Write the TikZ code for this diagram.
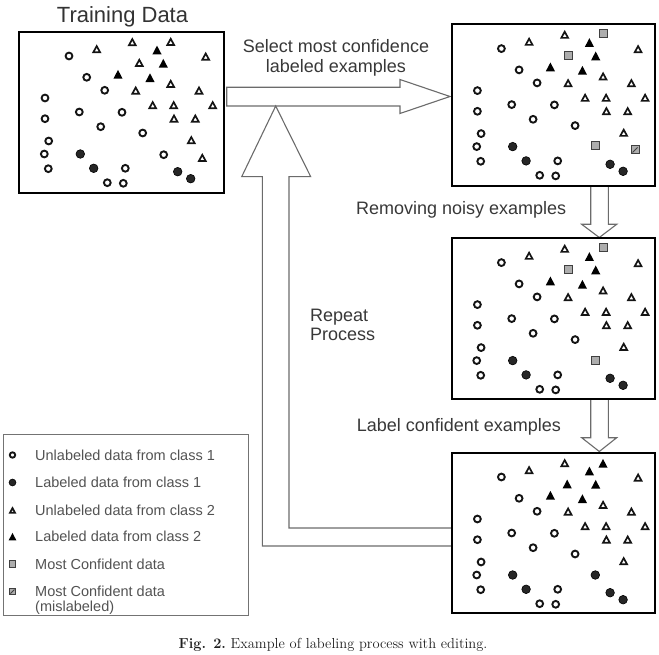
\documentclass[tikz,border=0pt]{standalone}
\usepackage{fontspec}
\newfontfamily\lsans{Liberation Sans}
\usetikzlibrary{calc}
\tikzset{
  databox/.style={draw=black, line width=2.3pt, inner sep=0pt, outer sep=0pt},
  blockarrow/.style={draw=black!58, line width=1.1pt, fill=white, line join=miter},
  ucs/.style={draw=black!92, line width=1.9pt},
  lcs/.style={draw=black, fill=black!85, line width=0.6pt},
  uts/.style={draw=black!92, line width=1.7pt, line join=miter},
  lts/.style={fill=black},
  sqs/.style={draw=black!75, fill=black!32, line width=1pt},
  lbl/.style={font=\lsans\fontsize{18}{20}\selectfont, text=black!78, inner sep=0pt},
  leg/.style={font=\lsans\fontsize{14.5}{16.5}\selectfont, text=black!68, inner sep=0pt, anchor=base west},
  legframe/.style={draw=black!55, line width=0.9pt},
}
\newcommand\pUC[2]{\draw[ucs] (#1,#2) circle[radius=3.4pt];}
\newcommand\pLC[2]{\draw[lcs] (#1,#2) circle[radius=4.3pt];}
\newcommand\pUT[2]{\draw[uts] (#1,#2) ++(0,-3.2) -- ++(3.4,6.2) -- ++(-6.8,0) -- cycle;}
\newcommand\pLT[2]{\fill[lts] (#1,#2) ++(0,-4.4) -- ++(4.6,8.8) -- ++(-9.2,0) -- cycle;}
\newcommand\pSQ[2]{\draw[sqs] (#1-4,#2-4) rectangle (#1+4,#2+4);}
\newcommand\pHQ[2]{\draw[sqs] (#1-4,#2-4) rectangle (#1+4,#2+4);
  \draw[black!75, line width=0.8pt] (#1-2.5,#2+2.5) -- (#1+2.5,#2-2.5);}
\newcommand\commonpts{%
  \pUC{49.7}{24.3} \pUC{67.4}{45.6} \pUC{85.4}{58.6} \pUC{25.7}{66.3}
  \pUC{60}{80.3} \pUC{102.7}{80.6} \pUC{25.7}{87} \pUC{81.4}{95}
  \pUC{123.4}{101.3} \pUC{29.4}{109.3} \pUC{25}{122.3} \pUC{29}{137}
  \pUC{106}{136.6} \pUC{88}{151} \pUC{104}{151.6}
  \pLC{61}{122.3} \pLC{74.4}{136.6} \pLC{158.4}{140} \pLC{171.4}{147}
  \pUT{77.4}{17.6} \pUT{113}{10.6} \pUT{186.4}{25} \pUT{151.4}{52.3}
  \pUT{116.4}{59} \pUT{179.7}{59} \pUT{133.4}{73.6} \pUT{154.4}{73.6}
  \pUT{193.4}{73.6} \pUT{154.7}{87} \pUT{176}{87} \pUT{172}{108.6}
  \pLT{137.7}{18.3} \pLT{144}{31.6} \pLT{98.7}{42.6} \pLT{130.7}{46}
}
\begin{document}
\begin{tikzpicture}[x=1pt, y=-1pt]
\useasboundingbox (0,0) rectangle (659,655);

% title
\node[font=\lsans\fontsize{22}{24}\selectfont, text=black!80, inner sep=0pt, anchor=base] (title) at (122.5,22.7) {Training Data};

% block arrows
\draw[blockarrow] (226.7,87.3) -- (400,87.3) -- (400,79.5) -- (450,96.5) -- (400,113.5) -- (400,106) -- (226.7,106) -- cycle;
\draw[blockarrow] (452,528) -- (289,528) -- (289,176.7) -- (310.7,176.7) -- (275.7,106)
  -- (241.7,176.7) -- (262.3,176.7) -- (262.3,546) -- (452,546);
\draw[blockarrow] (590.7,186) -- (590.7,224.3) -- (581.7,224.3) -- (599.3,237.5) -- (616.7,224.3) -- (608.3,224.3) -- (608.3,186);
\draw[blockarrow] (590.7,399) -- (590.7,437.7) -- (581.7,437.7) -- (599.3,451.5) -- (616.7,437.7) -- (608.3,437.7) -- (608.3,399);

% boxes
\node[databox, minimum width=204.7pt, minimum height=161.3pt] (b1) at (121.65,112.35) {};
\node[databox, minimum width=203.3pt, minimum height=161.7pt] (b2) at (553.35,105.15) {};
\node[databox, minimum width=203.3pt, minimum height=160.7pt] (b3) at (553.35,318.65) {};
\node[databox, minimum width=203.3pt, minimum height=160.3pt] (b4) at (553.35,532.85) {};

% box contents
\begin{scope}[shift={(19.3,31.7)}]
  \commonpts
  \pUT{151.4}{10.3} \pUT{120}{31.3} \pUC{144.4}{123} \pUT{183}{126.3}
\end{scope}
\begin{scope}[shift={(451.7,24.3)}]
  \commonpts
  \pSQ{151.3}{9.7} \pSQ{116.6}{31.4} \pSQ{143.6}{121.7} \pHQ{183.3}{125.7}
\end{scope}
\begin{scope}[shift={(451.7,238.3)}]
  \commonpts
  \pSQ{151.3}{9.5} \pSQ{116.6}{30.8} \pSQ{143.6}{121.7}
\end{scope}
\begin{scope}[shift={(451.7,452.7)}]
  \commonpts
  \pLT{151.3}{10.6} \pLT{115.5}{31.3} \pLC{143.6}{122.3}
\end{scope}

% labels
\node[lbl, anchor=base] (sel1) at (336,52.7) {Select most confidence};
\node[lbl, anchor=base] (sel2) at (336,72.7) {labeled examples};
\node[lbl, anchor=base west] (rem) at (356,215) {Removing noisy examples};
\node[lbl, anchor=base west] (lab) at (356.7,431) {Label confident examples};
\node[lbl, anchor=base west] (rep1) at (310,321) {Repeat};
\node[lbl, anchor=base west] (rep2) at (310,340) {Process};

% legend
\draw[legframe] (3,434) rectangle (248,615);
\begin{scope}[shift={(12.5,455)}, scale=0.8]\pUC{0}{0}\end{scope}
\begin{scope}[shift={(12.5,482.5)}, scale=0.8]\pLC{0}{0}\end{scope}
\begin{scope}[shift={(12.5,510.5)}, scale=0.75]\pUT{0}{0}\end{scope}
\begin{scope}[shift={(12.5,536.7)}, scale=0.85]\pLT{0}{0}\end{scope}
\begin{scope}[shift={(12.5,564)}, scale=0.8]\pSQ{0}{0}\end{scope}
\begin{scope}[shift={(12.5,591.5)}, scale=0.8]\pHQ{0}{0}\end{scope}
\node[leg] (l1) at (35,460.7) {Unlabeled data from class 1};
\node[leg] (l2) at (35,487.7) {Labeled data from class 1};
\node[leg] (l3) at (35,515.7) {Unlabeled data from class 2};
\node[leg] (l4) at (35,541.7) {Labeled data from class 2};
\node[leg] (l5) at (35,569) {Most Confident data};
\node[leg] (l6) at (35,596.7) {Most Confident data};
\node[leg] (l7) at (35,611.5) {(mislabeled)};

% caption
\node[font=\fontsize{14.5}{17}\selectfont, text=black!88, inner sep=0pt, anchor=base] (cap) at (333,648) {\textbf{Fig. 2.}\ Example of labeling process with editing.};
\end{tikzpicture}
\end{document}
